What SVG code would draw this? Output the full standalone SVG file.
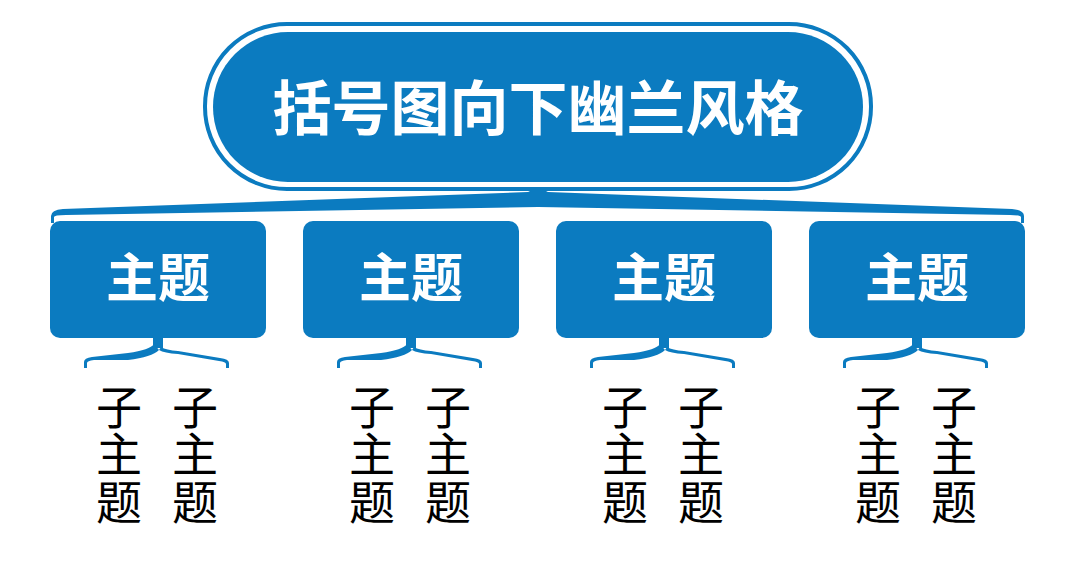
<svg xmlns="http://www.w3.org/2000/svg" width="1075" height="573" viewBox="0 0 1075 573">
<defs>
<style>
.blue{fill:#0B7BC0;}
.title{font-family:"Liberation Sans","Noto Sans CJK SC",sans-serif;font-weight:bold;fill:#fff;text-anchor:middle;}
.sub{font-family:"Liberation Sans","Noto Sans CJK SC",sans-serif;font-size:46px;fill:#000;text-anchor:middle;}
</style>
<g id="subbrace">
<rect class="blue" x="-5" y="336" width="10" height="12"/>
<path class="blue" d="M -4 344 Q -8 350 -30 353 L -66 357 Q -74 358 -74 362 L -74 368 L -71 368 L -71 363 Q -71 361 -64 360 L -30 360 Q -6 357 1 350 Z"/>
<path class="blue" d="M 3 347 Q 8 350 20 351 L 62 358 Q 71 359 71 363 L 71 368 L 68 368 L 68 364 Q 68 362 61 361 L 20 354 Q 6 353 1 350 Z"/>
</g>
</defs>
<rect width="1075" height="573" fill="#fff"/>
<g id="root">
<rect x="205" y="24" width="666" height="165" rx="82" fill="#fff" stroke="#0B7BC0" stroke-width="4"/>
<rect class="blue" x="213" y="32" width="650" height="150" rx="75"/>
<text class="title" x="538" y="130" font-size="59">括号图向下幽兰风格</text>
</g>
<g id="connectors">
<path class="blue" d="M 538 187 L 548 192 L 1012 209 Q 1024 210 1024 216 L 1024 223 L 1021 223 L 1021 217 Q 1021 215 1010 215 L 538 207 L 66 215 Q 54 215 54 217 L 54 223 L 51 223 L 51 216 Q 51 210 63 209 L 528 192 Z"/>
<use href="#subbrace" x="158"/>
<use href="#subbrace" x="411"/>
<use href="#subbrace" x="664"/>
<use href="#subbrace" x="917"/>
</g>
<g id="topic1">
<rect class="blue" x="50" y="221" width="216" height="117" rx="10"/>
<text class="title" x="158" y="297" font-size="52">主题</text>
</g>
<g id="topic2">
<rect class="blue" x="303" y="221" width="216" height="117" rx="10"/>
<text class="title" x="411" y="297" font-size="52">主题</text>
</g>
<g id="topic3">
<rect class="blue" x="556" y="221" width="216" height="117" rx="10"/>
<text class="title" x="664" y="297" font-size="52">主题</text>
</g>
<g id="topic4">
<rect class="blue" x="809" y="221" width="216" height="117" rx="10"/>
<text class="title" x="917" y="297" font-size="52">主题</text>
</g>
<g id="sub1a"><text class="sub" x="119"><tspan x="119" y="424">子</tspan><tspan x="119" y="471">主</tspan><tspan x="119" y="519">题</tspan></text></g>
<g id="sub1b"><text class="sub" x="195"><tspan x="195" y="424">子</tspan><tspan x="195" y="471">主</tspan><tspan x="195" y="519">题</tspan></text></g>
<g id="sub2a"><text class="sub" x="372"><tspan x="372" y="424">子</tspan><tspan x="372" y="471">主</tspan><tspan x="372" y="519">题</tspan></text></g>
<g id="sub2b"><text class="sub" x="448"><tspan x="448" y="424">子</tspan><tspan x="448" y="471">主</tspan><tspan x="448" y="519">题</tspan></text></g>
<g id="sub3a"><text class="sub" x="625"><tspan x="625" y="424">子</tspan><tspan x="625" y="471">主</tspan><tspan x="625" y="519">题</tspan></text></g>
<g id="sub3b"><text class="sub" x="701"><tspan x="701" y="424">子</tspan><tspan x="701" y="471">主</tspan><tspan x="701" y="519">题</tspan></text></g>
<g id="sub4a"><text class="sub" x="878"><tspan x="878" y="424">子</tspan><tspan x="878" y="471">主</tspan><tspan x="878" y="519">题</tspan></text></g>
<g id="sub4b"><text class="sub" x="954"><tspan x="954" y="424">子</tspan><tspan x="954" y="471">主</tspan><tspan x="954" y="519">题</tspan></text></g>
</svg>
